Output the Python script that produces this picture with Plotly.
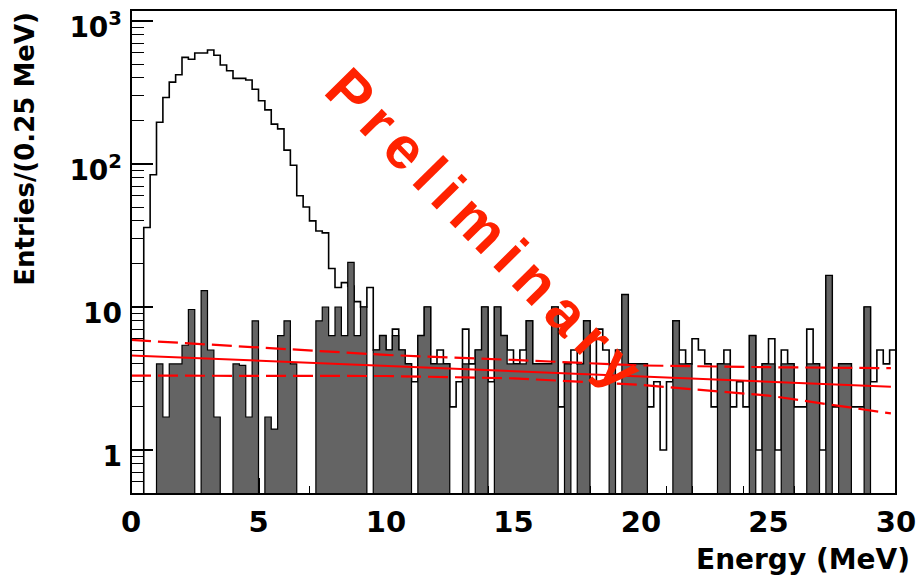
import plotly.graph_objects as go

# ---------------- data ----------------
BIN_WIDTH = 0.25          # MeV per bin
E_MIN, E_MAX = 0.0, 30.0

# open (outline) histogram, entries per 0.25 MeV bin
open_counts = [
    0, 0, 36, 84, 196, 292, 374, 421, 557, 540,
    597, 597, 627, 576, 492, 449, 397, 397, 387, 333,
    277, 239, 190, 176, 125, 98, 60, 50, 40, 34,
    33, 18.6, 13.7, 14.8, 14, 10.9, 10, 13.7, 5, 6.3,
    5, 7, 5, 4, 3, 6.3, 10, 4, 5, 4,
    2, 3, 7, 4, 5, 10, 3, 10, 6.3, 5,
    4, 5, 8, 4, 4, 4, 10, 2, 4, 5,
    4, 8, 3, 7, 5, 4, 5, 12.2, 4, 4,
    4, 2, 3, 1, 3, 8, 5, 4, 6, 5,
    4, 2, 4, 5, 2, 3, 2, 6.3, 1, 4,
    6, 1, 5, 4, 2, 2, 7, 4, 1, 16.6,
    2, 4, 4, 2, 2, 10, 3, 5, 4, 5,
]

# filled (grey) histogram, entries per 0.25 MeV bin
grey_counts = [
    0, 0, 0, 0, 4, 1.7, 4, 4, 5.4, 9.6,
    0, 13, 5, 1.7, 0, 0, 4, 3.9, 1.7, 8,
    0, 1.7, 1.4, 6.3, 8, 4, 0, 0, 0, 8,
    10, 6.3, 10, 6.3, 20.5, 6.3, 10, 0, 5, 6.3,
    5, 6.3, 5, 4, 0, 6.3, 10, 4, 4, 4,
    0, 0, 4, 0, 5, 10, 0, 10, 6.3, 4,
    4, 4, 8, 4, 4, 4, 10, 0, 4, 0,
    4, 8, 0, 0, 0, 4, 0, 12.2, 4, 4,
    4, 0, 0, 0, 0, 8, 4, 4, 0, 0,
    0, 0, 4, 4, 0, 0, 0, 6.3, 0, 4,
    4, 0, 4, 4, 0, 0, 4, 4, 0, 16.6,
    0, 4, 4, 0, 0, 10, 0, 0, 0, 0,
]

# exponential fit (straight on the log scale) and its error band
fit_energy = [0.0, 29.8]
fit_value = [4.58, 2.77]
band_energy = [0.0, 5.0, 10.0, 15.0, 20.0, 25.0, 29.8]
band_upper = [5.88, 5.23, 4.62, 4.26, 3.90, 3.79, 3.73]
band_lower = [3.31, 3.31, 3.29, 3.17, 2.85, 2.40, 1.80]

x_tick_vals = [0, 5, 10, 15, 20, 25, 30]
y_tick_vals = [1, 10, 100, 1000]
y_tick_text = ["1", "10", "10<sup>2</sup>", "10<sup>3</sup>"]

x_title = "Energy (MeV)"
y_title = "Entries/(0.25 MeV)"
watermark = "Preliminary"

# ---------------- helpers ----------------
FLOOR = 0.3  # below the visible log range: empty bins drop to the frame bottom


def step_path(counts):
    xs, ys = [E_MIN], [FLOOR]
    for i, v in enumerate(counts):
        lo = E_MIN + i * BIN_WIDTH
        hi = lo + BIN_WIDTH
        val = v if v > 0 else FLOOR
        xs += [lo, hi]
        ys += [val, val]
    xs.append(E_MAX)
    ys.append(FLOOR)
    return xs, ys


FONT = "DejaVu Sans"
RED = "#ff0000"

fig = go.Figure()

ox, oy = step_path(open_counts)
fig.add_trace(go.Scatter(x=ox, y=oy, mode="lines",
                         line=dict(color="black", width=1.6),
                         hoverinfo="skip"))

gx, gy = step_path(grey_counts)
fig.add_trace(go.Scatter(x=gx, y=gy, mode="lines", fill="toself",
                         fillcolor="#646464",
                         line=dict(color="black", width=1.2),
                         hoverinfo="skip"))

fig.add_trace(go.Scatter(x=fit_energy, y=fit_value, mode="lines",
                         line=dict(color=RED, width=2), hoverinfo="skip"))
for band in (band_upper, band_lower):
    fig.add_trace(go.Scatter(x=band_energy, y=band, mode="lines",
                             line=dict(color=RED, width=2.2, dash="20px,7px"),
                             hoverinfo="skip"))

minor_y = []
for decade in (0.1, 1, 10, 100):
    for m in range(2, 10):
        v = decade * m
        if 0.45 < v < 1200:
            minor_y.append(v)

xtickfont = dict(family=FONT, size=29, color="black", weight="bold")
ytickfont = dict(family=FONT, size=28, color="black", weight="bold")

fig.update_layout(
    width=918, height=581,
    margin=dict(l=131, r=22, t=10, b=87, autoexpand=False),
    paper_bgcolor="white", plot_bgcolor="white",
    showlegend=False,
    xaxis=dict(range=[E_MIN, E_MAX], tickvals=x_tick_vals,
               ticks="inside", ticklen=16, tickwidth=1.5, tickcolor="black",
               minor=dict(dtick=1, ticks="inside", ticklen=8,
                          tickwidth=1.2, tickcolor="black"),
               showgrid=False, zeroline=False, showline=False,
               layer="below traces", tickfont=xtickfont,
               ticklabelstandoff=8, automargin=False,
               ticklabeloverflow="allow"),
    yaxis=dict(type="log", range=[-0.308, 3.077],
               tickvals=y_tick_vals, ticktext=y_tick_text,
               ticks="inside", ticklen=22, tickwidth=1.5, tickcolor="black",
               minor=dict(tickvals=minor_y, ticks="inside", ticklen=13,
                          tickwidth=1.2, tickcolor="black"),
               showgrid=False, zeroline=False, showline=False,
               layer="below traces", tickfont=ytickfont,
               ticklabelstandoff=8, ticklabelshift=6, automargin=False,
               ticklabeloverflow="allow"),
    shapes=[dict(type="rect", xref="paper", yref="paper",
                 x0=0, x1=1, y0=0, y1=1,
                 line=dict(color="black", width=2), layer="above")],
    annotations=[
        dict(text=x_title, xref="paper", yref="paper",
             x=1.021, y=-0.136, xanchor="right", yanchor="middle",
             showarrow=False,
             font=dict(family=FONT, size=28, color="black", weight="bold")),
        dict(text=y_title, xref="paper", yref="paper",
             x=-0.139, y=1.0, xanchor="center", yanchor="top",
             textangle=-90, showarrow=False,
             font=dict(family=FONT, size=26, color="black", weight="bold")),
        dict(text='<span style="letter-spacing:10px">' + watermark + '</span>',
             xref="paper", yref="paper",
             x=0.4654, y=0.5413, xanchor="center", yanchor="middle",
             textangle=45.5, showarrow=False,
             font=dict(family="Liberation Sans", size=59, color="#ff2200",
                       weight="bold")),
    ],
)

fig.write_html("out.html")
